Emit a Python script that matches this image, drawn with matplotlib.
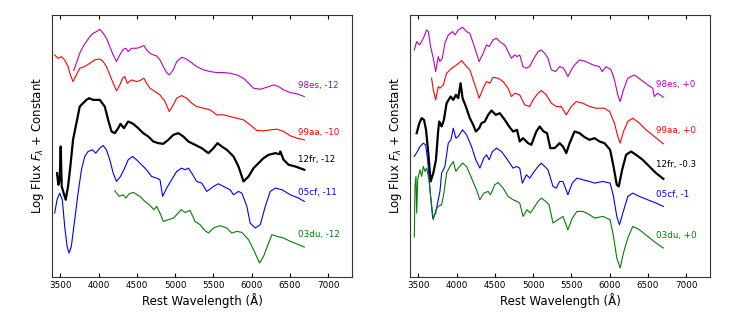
import numpy as np
import matplotlib
matplotlib.use("Agg")
import matplotlib.pyplot as plt

# left panel: early spectra (phase ~ -10 to -12 d)
wl_98es_early = [3674, 3709, 3753, 3796, 3840, 3884, 3928, 3971, 4015, 4059, 4102, 4146, 4190, 4233,
                 4277, 4321, 4356, 4386, 4430, 4496, 4539, 4592, 4627, 4670, 4714, 4758, 4802, 4845,
                 4889, 4924, 4976, 5020, 5086, 5129, 5195, 5282, 5370, 5457, 5544, 5632, 5719, 5807,
                 5894, 5960, 6025, 6113, 6200, 6287, 6353, 6418, 6506, 6593, 6689]
fl_98es_early = [6.20, 6.42, 6.72, 6.92, 7.07, 7.22, 7.32, 7.37, 7.44, 7.32, 7.17, 6.92, 6.67, 6.47,
                 6.67, 6.84, 6.87, 6.77, 6.87, 6.87, 6.90, 6.95, 6.82, 6.72, 6.67, 6.64, 6.52, 6.32,
                 6.14, 6.07, 6.22, 6.47, 6.60, 6.57, 6.47, 6.32, 6.22, 6.17, 6.14, 6.14, 6.12, 6.07,
                 5.97, 5.82, 5.67, 5.64, 5.70, 5.77, 5.72, 5.62, 5.54, 5.50, 5.42]

wl_99aa_early = [3425, 3469, 3512, 3556, 3600, 3630, 3665, 3709, 3753, 3818, 3884, 3949, 4015, 4059,
                 4102, 4146, 4190, 4233, 4277, 4312, 4343, 4373, 4430, 4496, 4539, 4592, 4627, 4670,
                 4736, 4802, 4867, 4924, 4976, 5020, 5086, 5151, 5217, 5282, 5370, 5457, 5544, 5632,
                 5719, 5807, 5894, 5981, 6069, 6156, 6244, 6331, 6418, 6506, 6593, 6689]
fl_99aa_early = [6.67, 6.57, 6.62, 6.52, 6.32, 6.07, 5.87, 6.07, 6.27, 6.32, 6.42, 6.52, 6.55, 6.47,
                 6.32, 6.07, 5.82, 5.59, 5.77, 5.97, 6.02, 5.82, 5.92, 5.87, 5.90, 5.97, 5.82, 5.67,
                 5.57, 5.47, 5.27, 4.97, 5.17, 5.37, 5.45, 5.37, 5.22, 5.12, 5.07, 5.02, 4.87, 4.87,
                 4.82, 4.77, 4.72, 4.57, 4.40, 4.39, 4.42, 4.44, 4.37, 4.24, 4.17, 4.12]

wl_12fr_early = [3456, 3473, 3490, 3504, 3517, 3543, 3569, 3600, 3630, 3665, 3709, 3753, 3796, 3840,
                 3875, 3928, 4015, 4080, 4124, 4168, 4212, 4255, 4286, 4330, 4386, 4452, 4517, 4583,
                 4649, 4714, 4780, 4845, 4911, 4976, 5042, 5107, 5173, 5260, 5348, 5435, 5501, 5553,
                 5610, 5676, 5763, 5828, 5894, 5960, 6025, 6091, 6156, 6222, 6309, 6366, 6375, 6418,
                 6484, 6571, 6689]
fl_12fr_early = [3.12, 2.77, 2.92, 3.92, 2.72, 2.52, 2.32, 2.72, 3.32, 4.12, 4.62, 5.12, 5.22, 5.32,
                 5.37, 5.32, 5.32, 5.12, 4.72, 4.37, 4.32, 4.47, 4.60, 4.47, 4.67, 4.60, 4.47, 4.32,
                 4.22, 4.07, 4.02, 4.00, 4.12, 4.27, 4.32, 4.22, 4.07, 3.97, 3.87, 3.72, 3.87, 4.02,
                 3.92, 3.82, 3.62, 3.32, 2.87, 3.02, 3.27, 3.42, 3.57, 3.67, 3.72, 3.69, 3.77, 3.52,
                 3.37, 3.32, 3.22]

wl_05cf_early = [3425, 3456, 3490, 3525, 3556, 3587, 3613, 3643, 3687, 3731, 3775, 3818, 3862, 3919,
                 3962, 4015, 4059, 4102, 4146, 4190, 4233, 4286, 4330, 4386, 4443, 4496, 4561, 4627,
                 4692, 4758, 4802, 4836, 4889, 4954, 5020, 5086, 5129, 5173, 5217, 5282, 5348, 5413,
                 5501, 5566, 5632, 5719, 5763, 5828, 5872, 5938, 5981, 6047, 6113, 6178, 6244, 6309,
                 6397, 6506, 6615, 6689]
fl_05cf_early = [1.92, 2.32, 2.52, 2.32, 1.52, 0.92, 0.72, 0.92, 1.72, 2.52, 3.22, 3.62, 3.77, 3.82,
                 3.72, 3.87, 3.95, 3.82, 3.52, 3.12, 2.87, 3.02, 3.22, 3.52, 3.62, 3.52, 3.37, 3.22,
                 3.02, 2.97, 2.92, 2.42, 2.67, 2.92, 3.17, 3.27, 3.22, 3.27, 3.12, 2.87, 2.82, 2.57,
                 2.72, 2.80, 2.72, 2.62, 2.47, 2.57, 2.52, 2.12, 1.62, 1.47, 1.57, 2.12, 2.57, 2.67,
                 2.62, 2.47, 2.37, 2.27]

wl_03du_early = [4212, 4268, 4321, 4356, 4399, 4452, 4539, 4605, 4662, 4723, 4758, 4802, 4845, 4911,
                 4976, 5020, 5077, 5129, 5195, 5260, 5326, 5378, 5435, 5501, 5588, 5676, 5741, 5807,
                 5872, 5960, 6025, 6104, 6156, 6222, 6265, 6331, 6418, 6506, 6615, 6689]
fl_03du_early = [2.59, 2.42, 2.47, 2.37, 2.50, 2.54, 2.42, 2.27, 2.17, 2.02, 2.12, 1.92, 1.67, 1.72,
                 1.77, 1.87, 2.02, 1.94, 2.00, 1.67, 1.57, 1.42, 1.32, 1.47, 1.54, 1.47, 1.32, 1.37,
                 1.34, 1.12, 0.82, 0.42, 0.62, 1.02, 1.27, 1.22, 1.17, 1.07, 0.97, 0.90]

# right panel: spectra near maximum light
wl_98es_max = [3446, 3477, 3512, 3542, 3573, 3607, 3629, 3659, 3694, 3725, 3759, 3781, 3812, 3846,
               3890, 3946, 3977, 4020, 4077, 4129, 4172, 4216, 4259, 4294, 4346, 4390, 4424, 4476,
               4520, 4563, 4629, 4672, 4716, 4759, 4789, 4824, 4868, 4911, 4955, 4998, 5063, 5107,
               5150, 5194, 5237, 5294, 5346, 5398, 5454, 5498, 5541, 5606, 5693, 5780, 5867, 5902,
               5954, 6019, 6063, 6106, 6137, 6180, 6237, 6324, 6410, 6497, 6563, 6584, 6628, 6702]
fl_98es_max = [6.82, 7.07, 6.97, 7.07, 7.22, 7.42, 7.37, 6.92, 6.57, 6.17, 6.62, 6.47, 6.57, 7.02,
               7.27, 7.37, 7.27, 7.42, 7.50, 7.37, 7.32, 7.02, 6.72, 6.47, 6.72, 6.97, 6.92, 7.12,
               7.17, 7.07, 6.97, 6.77, 6.57, 6.67, 6.62, 6.67, 6.32, 6.27, 6.32, 6.52, 6.77, 6.82,
               6.72, 6.57, 6.22, 6.17, 6.32, 6.27, 6.02, 6.22, 6.37, 6.52, 6.47, 6.37, 6.32, 6.17,
               6.32, 6.22, 5.92, 5.47, 5.27, 5.62, 5.97, 6.07, 5.92, 5.77, 5.67, 5.42, 5.52, 5.40]

wl_99aa_max = [3672, 3694, 3725, 3759, 3781, 3825, 3868, 3933, 3998, 4064, 4129, 4172, 4216, 4259,
               4294, 4346, 4390, 4433, 4476, 4542, 4607, 4672, 4716, 4759, 4824, 4889, 4955, 4998,
               5063, 5107, 5172, 5237, 5302, 5367, 5433, 5498, 5563, 5650, 5737, 5824, 5932, 5998,
               6063, 6106, 6137, 6180, 6237, 6302, 6389, 6476, 6584, 6702]
fl_99aa_max = [5.97, 5.62, 5.32, 5.72, 5.67, 5.77, 6.12, 6.27, 6.37, 6.50, 6.32, 6.22, 5.92, 5.62,
               5.37, 5.67, 5.87, 5.82, 6.00, 5.97, 5.87, 5.67, 5.42, 5.52, 5.47, 5.17, 5.12, 5.32,
               5.52, 5.60, 5.47, 5.22, 5.12, 5.12, 4.87, 5.12, 5.27, 5.22, 5.12, 5.07, 5.07, 4.97,
               4.62, 4.22, 4.02, 4.37, 4.67, 4.77, 4.62, 4.42, 4.22, 4.00]

wl_12fr_max = [3477, 3512, 3542, 3573, 3599, 3629, 3659, 3694, 3729, 3759, 3772, 3803, 3833, 3868,
               3920, 3955, 3990, 4020, 4051, 4077, 4120, 4172, 4216, 4250, 4294, 4324, 4368, 4411,
               4455, 4511, 4563, 4629, 4685, 4737, 4789, 4824, 4868, 4933, 4976, 5041, 5085, 5137,
               5181, 5224, 5280, 5346, 5389, 5433, 5476, 5541, 5606, 5672, 5737, 5802, 5867, 5932,
               6006, 6050, 6093, 6119, 6163, 6215, 6280, 6345, 6432, 6519, 6606, 6702]
fl_12fr_max = [4.32, 4.62, 4.77, 4.72, 4.42, 3.72, 2.87, 3.12, 3.52, 4.42, 4.67, 4.52, 4.72, 5.22,
               5.42, 5.32, 5.47, 5.37, 5.82, 5.37, 5.12, 4.77, 4.57, 4.37, 4.47, 4.62, 4.67, 4.87,
               5.00, 4.87, 4.92, 4.72, 4.52, 4.37, 4.42, 4.07, 4.17, 4.02, 3.97, 4.37, 4.52, 4.37,
               4.32, 3.87, 3.87, 4.02, 3.92, 3.72, 4.02, 4.37, 4.32, 4.20, 4.12, 4.17, 4.07, 4.02,
               3.82, 3.32, 2.77, 2.72, 3.22, 3.67, 3.77, 3.67, 3.52, 3.32, 3.12, 2.95]

wl_05cf_max = [3446, 3486, 3520, 3564, 3594, 3620, 3651, 3686, 3725, 3759, 3781, 3803, 3846, 3890,
               3925, 3955, 3990, 4020, 4077, 4129, 4194, 4250, 4303, 4355, 4390, 4424, 4468, 4520,
               4585, 4650, 4694, 4737, 4781, 4824, 4859, 4911, 4955, 4998, 5063, 5107, 5150, 5194,
               5259, 5302, 5346, 5389, 5454, 5511, 5572, 5650, 5737, 5802, 5911, 6006, 6050, 6093,
               6128, 6172, 6237, 6302, 6389, 6497, 6606, 6702]
fl_05cf_max = [3.62, 3.77, 3.92, 4.02, 3.97, 3.52, 2.62, 1.77, 1.92, 2.32, 2.57, 3.12, 3.32, 4.02,
               4.12, 4.47, 4.17, 4.22, 4.42, 4.27, 3.92, 3.52, 3.27, 3.57, 3.67, 3.52, 3.77, 3.87,
               3.77, 3.57, 3.42, 3.27, 3.32, 3.27, 2.82, 3.07, 2.97, 3.12, 3.32, 3.42, 3.32, 3.22,
               2.72, 2.67, 2.87, 2.87, 2.47, 2.82, 2.97, 2.92, 2.87, 2.82, 2.87, 2.82, 2.42, 1.82,
               1.57, 1.92, 2.42, 2.52, 2.42, 2.32, 2.22, 2.12]

wl_03du_max = [3446, 3455, 3468, 3477, 3490, 3520, 3542, 3564, 3586, 3607, 3638, 3659, 3694, 3729,
               3759, 3803, 3833, 3868, 3912, 3955, 3990, 4020, 4077, 4129, 4194, 4259, 4303, 4355,
               4411, 4442, 4498, 4542, 4607, 4672, 4737, 4789, 4824, 4868, 4920, 4963, 5007, 5063,
               5107, 5163, 5207, 5259, 5324, 5389, 5454, 5511, 5572, 5650, 5737, 5802, 5911, 6006,
               6050, 6093, 6137, 6180, 6237, 6302, 6389, 6497, 6606, 6702]
fl_03du_max = [1.20, 2.72, 3.02, 1.92, 2.92, 3.22, 3.02, 3.32, 3.17, 3.27, 2.92, 2.42, 1.72, 2.02,
               2.12, 2.17, 2.52, 3.12, 3.32, 3.47, 3.17, 3.27, 3.42, 3.32, 2.97, 2.62, 2.32, 2.52,
               2.57, 2.47, 2.77, 2.84, 2.67, 2.42, 2.32, 2.27, 2.22, 1.82, 2.02, 1.92, 2.07, 2.27,
               2.37, 2.27, 2.17, 1.62, 1.72, 1.82, 1.42, 1.77, 1.97, 1.97, 1.87, 1.77, 1.82, 1.72,
               1.22, 0.57, 0.27, 0.72, 1.17, 1.52, 1.42, 1.22, 1.02, 0.87]

names = ["98es", "99aa", "12fr", "05cf", "03du"]
colors = ["m", "r", "k", "b", "g"]
widths = [0.8, 0.8, 1.6, 0.8, 0.8]

early = [(wl_98es_early, fl_98es_early), (wl_99aa_early, fl_99aa_early), (wl_12fr_early, fl_12fr_early),
         (wl_05cf_early, fl_05cf_early), (wl_03du_early, fl_03du_early)]
early_phase = ["-12", "-10", "-12", "-11", "-12"]
early_label_y = [5.75, 4.34, 3.52, 2.55, 1.27]

maxlight = [(wl_98es_max, fl_98es_max), (wl_99aa_max, fl_99aa_max), (wl_12fr_max, fl_12fr_max),
            (wl_05cf_max, fl_05cf_max), (wl_03du_max, fl_03du_max)]
max_phase = ["+0", "+0", "-0.3", "-1", "+0"]
max_label_y = [5.77, 4.40, 3.39, 2.49, 1.25]

fig = plt.figure(figsize=(7.47, 3.2), dpi=100)
ax1 = fig.add_axes([0.0696, 0.1344, 0.4016, 0.8188])
ax2 = fig.add_axes([0.5489, 0.1344, 0.4016, 0.8188])

for ax, spectra, phases, label_y in [(ax1, early, early_phase, early_label_y),
                                     (ax2, maxlight, max_phase, max_label_y)]:
    for (wl, fl), name, c, lw, ph, ly in zip(spectra, names, colors, widths, phases, label_y):
        ax.plot(wl, fl, color=c, lw=lw)
        ax.text(6600, ly, f"{name}, {ph}", color=c, fontsize=6.3, va="center", ha="left")
    ax.set_xlim(3390, 7312)
    ax.set_ylim(0, 7.87)
    ax.set_yticks([])
    ax.set_xticks(np.arange(3500, 7001, 500))
    ax.tick_params(axis="x", direction="in", top=True, length=3, labelsize=6.3, pad=3)
    ax.set_xlabel("Rest Wavelength (Å)", fontsize=8.5, labelpad=2)
    ax.set_ylabel(r"Log Flux $F_\lambda$ + Constant", fontsize=8.5)
    for sp in ax.spines.values():
        sp.set_color("#333333")
        sp.set_linewidth(0.8)

plt.savefig("out.png", dpi=100)
